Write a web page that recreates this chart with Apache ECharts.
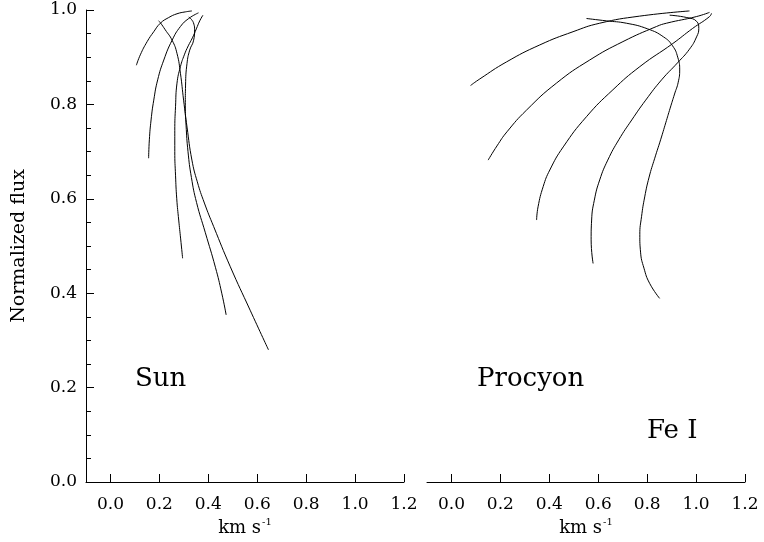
<!DOCTYPE html>
<html>
<head>
<meta charset="utf-8">
<script src="https://cdn.jsdelivr.net/npm/echarts@6/dist/echarts.min.js"></script>
<style>
  html, body { margin: 0; padding: 0; background: #fff; }
  #chart { width: 764px; height: 542px; }
</style>
</head>
<body>
<div id="chart"></div>
<script>
// ---- data ----
const xTickValues = [0, 0.2, 0.4, 0.6, 0.8, 1.0, 1.2];
const yTickValues = [0, 0.2, 0.4, 0.6, 0.8, 1.0];
const panelNames = ['Sun', 'Procyon'];
const lineName = 'Fe I';
const xAxisTitle = 'km s';
const xAxisTitleSup = '-1';
const yAxisTitle = 'Normalized flux';

// Sun bisectors [velocity km/s, normalized flux]
const sun1 = [[0.106,0.883],[0.122,0.905],[0.150,0.933],[0.177,0.954],[0.204,0.972],[0.238,0.984],[0.272,0.992],[0.306,0.996],[0.333,0.998]];
const sun2 = [[0.156,0.686],[0.159,0.725],[0.166,0.767],[0.177,0.809],[0.193,0.852],[0.218,0.894],[0.252,0.936],[0.286,0.965],[0.320,0.982],[0.360,0.994]];
const sun3 = [[0.295,0.474],[0.287,0.515],[0.279,0.555],[0.271,0.600],[0.266,0.650],[0.263,0.700],[0.263,0.745],[0.266,0.795],[0.272,0.845],[0.286,0.880],[0.302,0.905],[0.318,0.924],[0.335,0.941],[0.351,0.960],[0.365,0.977],[0.378,0.989]];
const sun4 = [[0.646,0.280],[0.571,0.364],[0.490,0.456],[0.422,0.541],[0.384,0.591],[0.355,0.636],[0.333,0.682],[0.313,0.752],[0.299,0.809],[0.286,0.866],[0.272,0.908],[0.252,0.936],[0.224,0.958],[0.204,0.973],[0.197,0.977]];
const sun5 = [[0.473,0.354],[0.455,0.400],[0.429,0.455],[0.388,0.528],[0.352,0.592],[0.331,0.645],[0.317,0.700],[0.309,0.756],[0.306,0.797],[0.307,0.841],[0.313,0.887],[0.324,0.915],[0.340,0.936],[0.344,0.958],[0.341,0.970],[0.331,0.980],[0.320,0.985]];

// Procyon bisectors
const proc1 = [[0.078,0.840],[0.116,0.854],[0.225,0.890],[0.361,0.926],[0.497,0.954],[0.606,0.972],[0.769,0.987],[0.973,0.998]];
const proc2 = [[0.150,0.682],[0.186,0.712],[0.227,0.742],[0.307,0.788],[0.429,0.845],[0.565,0.894],[0.701,0.933],[0.838,0.965],[0.879,0.972],[1.001,0.986],[1.055,0.995]];
const proc3 = [[0.348,0.555],[0.354,0.583],[0.375,0.626],[0.402,0.661],[0.457,0.710],[0.552,0.774],[0.660,0.831],[0.770,0.880],[0.905,0.929],[0.986,0.961],[1.055,0.986],[1.063,0.993]];
const proc4 = [[0.579,0.463],[0.571,0.513],[0.573,0.555],[0.584,0.597],[0.606,0.640],[0.639,0.682],[0.684,0.725],[0.737,0.767],[0.794,0.809],[0.859,0.852],[0.924,0.888],[0.973,0.917],[1.002,0.943],[1.011,0.961],[1.002,0.976],[0.962,0.984],[0.892,0.989]];
const proc5 = [[0.552,0.982],[0.633,0.977],[0.715,0.972],[0.802,0.960],[0.867,0.943],[0.904,0.924],[0.925,0.900],[0.933,0.873],[0.927,0.847],[0.912,0.822],[0.894,0.792],[0.876,0.761],[0.855,0.725],[0.831,0.686],[0.808,0.646],[0.790,0.604],[0.777,0.562],[0.770,0.524],[0.773,0.487],[0.787,0.453],[0.810,0.421],[0.851,0.389]];

const sunCurves = [sun1, sun2, sun3, sun4, sun5];
const procCurves = [proc1, proc2, proc3, proc4, proc5];

// ---- chart ----
const FONT = 'DejaVu Serif';
const chart = echarts.init(document.getElementById('chart'), null, { renderer: 'canvas' });

function makeXAxis(gridIndex) {
  return {
    type: 'value', gridIndex: gridIndex, min: -0.1, max: 1.2,
    name: '{a|' + xAxisTitle + '}{b|' + xAxisTitleSup + '}',
    nameLocation: 'middle', nameGap: 31,
    nameTextStyle: {
      rich: {
        a: { fontFamily: FONT, fontSize: 18, color: '#000', lineHeight: 20 },
        b: { fontFamily: FONT, fontSize: 10, color: '#000', verticalAlign: 'top', lineHeight: 20, padding: [0, 0, 7, 1] }
      }
    },
    axisLine: { show: true, onZero: false, lineStyle: { color: '#000', width: 1 } },
    axisTick: { show: true, inside: true, length: 8, customValues: xTickValues, lineStyle: { color: '#000', width: 1 } },
    axisLabel: { show: true, customValues: xTickValues, margin: 14, fontFamily: FONT, fontSize: 17, color: '#000',
                 formatter: v => v.toFixed(1) },
    splitLine: { show: false }
  };
}

function makeSeries(curves, idx) {
  return curves.map(c => ({
    type: 'line', xAxisIndex: idx, yAxisIndex: idx, data: c,
    showSymbol: false, symbol: 'none', smooth: 0.5,
    lineStyle: { color: '#000', width: 1 }, silent: true, animation: false
  }));
}

const option = {
  backgroundColor: '#fff',
  animation: false,
  grid: [
    { left: 86, top: 10, width: 318, height: 472 },
    { left: 427, top: 10, width: 318, height: 472 }
  ],
  xAxis: [makeXAxis(0), makeXAxis(1)],
  yAxis: [
    {
      type: 'value', gridIndex: 0, min: 0, max: 1, interval: 0.2,
      name: yAxisTitle, nameLocation: 'middle', nameGap: 57, nameRotate: 90,
      nameTextStyle: { fontFamily: FONT, fontSize: 19, color: '#000' },
      axisLine: { show: true, onZero: false, lineStyle: { color: '#000', width: 1 } },
      axisTick: { show: true, inside: true, length: 8, lineStyle: { color: '#000', width: 1 } },
      minorTick: { show: true, splitNumber: 4, length: 5, lineStyle: { color: '#000', width: 1 } },
      axisLabel: { margin: 9, fontFamily: FONT, fontSize: 17, color: '#000', formatter: v => v.toFixed(1) },
      splitLine: { show: false }, minorSplitLine: { show: false }
    },
    {
      type: 'value', gridIndex: 1, min: 0, max: 1, show: false,
      axisLine: { onZero: false },
      splitLine: { show: false }
    }
  ],
  graphic: [
    { type: 'text', left: 135, top: 366, style: { text: panelNames[0], font: '26px "' + FONT + '"', fill: '#000' } },
    { type: 'text', left: 477, top: 366, style: { text: panelNames[1], font: '26px "' + FONT + '"', fill: '#000' } },
    { type: 'text', left: 647, top: 418, style: { text: lineName, font: '26px "' + FONT + '"', fill: '#000' } }
  ],
  series: makeSeries(sunCurves, 0).concat(makeSeries(procCurves, 1))
};
chart.setOption(option);
</script>
</body>
</html>
